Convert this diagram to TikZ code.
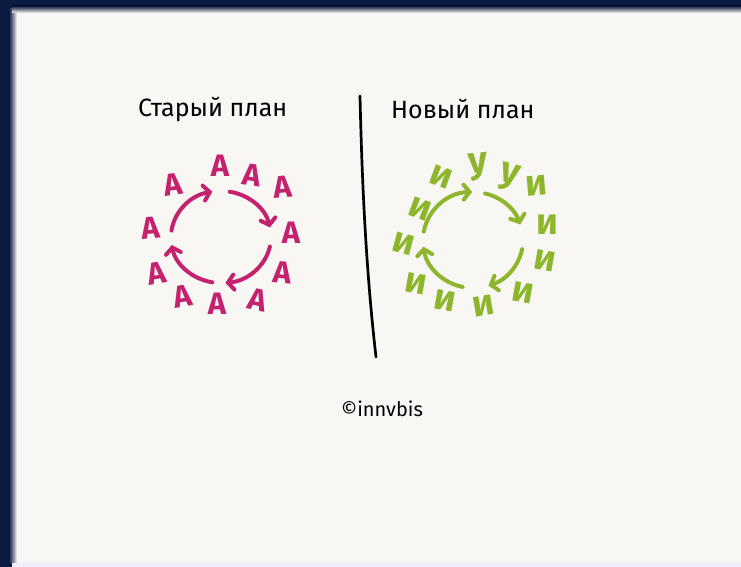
\documentclass[tikz,border=0pt]{standalone}
\usepackage{fontspec}
\setmainfont{Fira Sans}
\usetikzlibrary{arrows.meta}
\definecolor{navy}{HTML}{0B1A3F}
\definecolor{paper}{HTML}{F8F7F4}
\definecolor{plum}{HTML}{C4216F}
\definecolor{leaf}{HTML}{8DB62C}

\begin{document}
\begin{tikzpicture}[x=1pt,y=-1pt,
    title/.style={font=\fontsize{25}{25}\selectfont,inner sep=0pt},
    olda/.style={text=plum,font=\bfseries\fontsize{31}{31}\selectfont,inner sep=0pt},
    newi/.style={text=leaf,font=\bfseries\fontsize{37}{37}\selectfont,inner sep=0pt},
    turn/.style={line width=4pt,line cap=round,-{Straight Barb[length=6pt,width=15pt,line cap=round]}},
    oldarc/.style={turn,draw=plum},
    newarc/.style={turn,draw=leaf}]
    \useasboundingbox (0,0) rectangle (741,567);
    % frame and paper
    \fill[navy] (0,0) rectangle (741,567);
    \fill[paper] (12,9) rectangle (741,562);
    \fill[gray!30!blue!8] (12,562) rectangle (741,567);
    \shade[left color=navy,right color=paper] (9,9) rectangle (17,562);
    \shade[top color=navy,bottom color=paper] (12,6) rectangle (741,13);
    % titles
    \node[title,anchor=base west] (oldt) at (138,117) {Старый план};
    \node[title,anchor=base west] (newt) at (391,118) {Новый план};
    % divider
    \coordinate (divtop) at (360,96);
    \coordinate (divbot) at (376,357);
    \draw[line width=2.7pt,line cap=round] (divtop) .. controls (362,183) and (366,270) .. (divbot);
    % old plan
    \coordinate (oldc) at (221,237);
    \node[olda,rotate=8] (a1) at (173,185) {А};
    \node[olda] (a2) at (220,166) {А};
    \node[olda,rotate=-8] (a3) at (252,175) {А};
    \node[olda,rotate=5] (a4) at (283,187) {А};
    \node[olda,rotate=5] (a5) at (151,228) {А};
    \node[olda] (a6) at (291,233) {А};
    \node[olda,rotate=10] (a7) at (157,273) {А};
    \node[olda,rotate=-5] (a8) at (283,273) {А};
    \node[olda,rotate=10] (a9) at (183,296) {А};
    \node[olda] (a10) at (217,304) {А};
    \node[olda,rotate=-12] (a11) at (258,300) {А};
    \draw[oldarc] (oldc) ++(-172:50 and 46) arc[start angle=-172,end angle=-100,x radius=50,y radius=46];
    \draw[oldarc] (oldc) ++(-80:50 and 46) arc[start angle=-80,end angle=-12,x radius=50,y radius=46];
    \draw[oldarc] (oldc) ++(12:50 and 46) arc[start angle=12,end angle=85,x radius=50,y radius=46];
    \draw[oldarc] (oldc) ++(100:50 and 46) arc[start angle=100,end angle=170,x radius=50,y radius=46];
    % new plan
    \coordinate (newc) at (473,240);
    \node[newi,rotate=-20] (i1) at (441,177) {и};
    \node[newi,rotate=5] (y1) at (479,167) {у};
    \node[newi,rotate=-15] (y2) at (509,177) {у};
    \node[newi,rotate=5] (i2) at (537,186) {и};
    \node[newi,rotate=-20] (i3) at (420,209) {и};
    \node[newi,rotate=0] (i4) at (547,225) {и};
    \node[newi,rotate=-15] (i5) at (404,244) {и};
    \node[newi,rotate=-10] (i6) at (545,261) {и};
    \node[newi,rotate=-10] (i7) at (416,284) {и};
    \node[newi,rotate=-10] (i8) at (445,301) {и};
    \node[newi,rotate=10] (i9) at (484,306) {и};
    \node[newi,rotate=-10] (i10) at (523,293) {и};
    \draw[newarc] (newc) ++(-170:50 and 48) arc[start angle=-170,end angle=-91,x radius=50,y radius=48];
    \draw[newarc] (newc) ++(-76:50 and 48) arc[start angle=-76,end angle=-19,x radius=50,y radius=48];
    \draw[newarc] (newc) ++(11:50 and 48) arc[start angle=11,end angle=72,x radius=50,y radius=48];
    \draw[newarc] (newc) ++(102:50 and 48) arc[start angle=102,end angle=172,x radius=50,y radius=48];
    % signature
    \node[font=\fontsize{20}{20}\selectfont,inner sep=0pt] (sign) at (382,409) {©innvbis};
\end{tikzpicture}
\end{document}
